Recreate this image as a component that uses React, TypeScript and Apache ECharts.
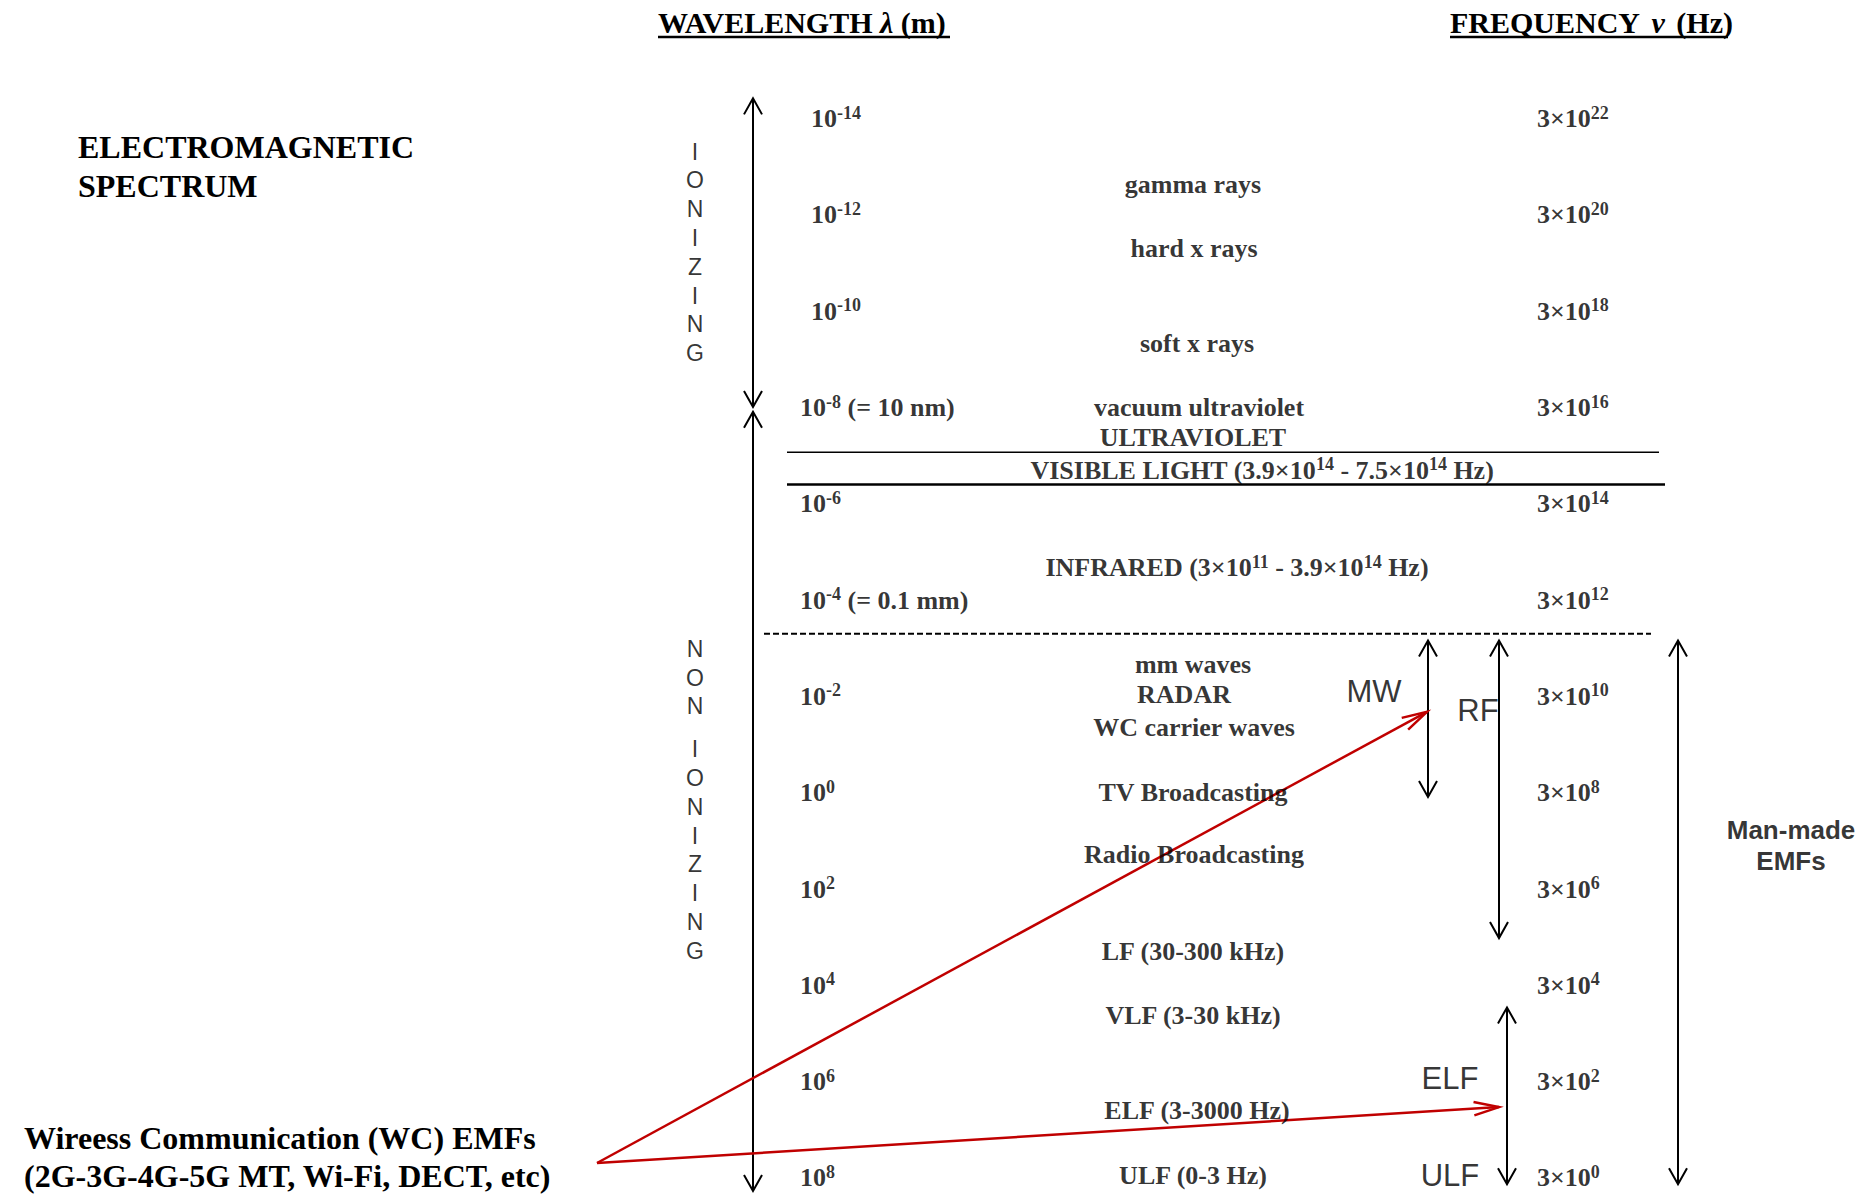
import React, { useEffect, useRef } from "react";
import * as echarts from "echarts";

const SERIF = '"Liberation Serif", "Times New Roman", Times, serif';
const SANS = '"Liberation Sans", Arial, Helvetica, sans-serif';
const RED = "#c00000";

// ---------------- data ----------------
// vertical scale: log10 of wavelength in metres
const wavelengthExponents = [-14, -12, -10, -8, -6, -4, -2, 0, 2, 4, 6, 8];
const wavelengthNotes = ["", "", "", " (= 10 nm)", "", " (= 0.1 mm)", "", "", "", "", "", ""];
const frequencyExponents = [22, 20, 18, 16, 14, 12, 10, 8, 6, 4, 2, 0];

const bandNames = [
  "gamma rays",
  "hard x rays",
  "soft x rays",
  "vacuum ultraviolet",
  "ULTRAVIOLET",
  "VISIBLE LIGHT (3.9×10^14 - 7.5×10^14 Hz)",
  "INFRARED (3×10^11 - 3.9×10^14 Hz)",
  "mm waves",
  "RADAR",
  "WC carrier waves",
  "TV Broadcasting",
  "Radio Broadcasting",
  "LF (30-300 kHz)",
  "VLF (3-30 kHz)",
  "ELF (3-3000 Hz)",
  "ULF (0-3 Hz)",
];
const bandLevels = [-12.64, -11.31, -9.32, -8.0, -7.37, -6.7, -4.67, -2.67, -2.03, -1.36, 0, 1.29, 3.29, 4.62, 6.61, 7.96];

// double-headed range arrows
const rangeNames = ["IONIZING", "NON IONIZING", "MW", "RF", "ELF", "Man-made EMFs"];
const rangeFrom = [-14.42, -7.91, -3.16, -3.16, 4.46, -3.16];
const rangeTo = [-8.01, 8.27, 0.09, 3.02, 8.13, 8.13];

// labels of the ranges
const rangeLabelTexts = [
  "I\nO\nN\nI\nZ\nI\nN\nG",
  "N\nO\nN",
  "I\nO\nN\nI\nZ\nI\nN\nG",
  "MW",
  "RF",
  "ELF",
  "ULF",
  "Man-made\nEMFs",
];
const rangeLabelLevels = [-11.22, -2.39, 1.19, -2.11, -1.7, 5.93, 7.96, 1.09];

// horizontal boundaries: UV | visible | IR | radio
const boundaryLevels = [-7.07, -6.4, -3.3];

// wireless communication pointers
const wcLabel = ["Wireess Communication (WC) EMFs", "(2G-3G-4G-5G MT, Wi-Fi, DECT, etc)"];
const wcSourceLevel = 7.69;
const wcTargetLevels = [-1.68, 6.53];

// ---------------- layout ----------------
const W = 1862;
const H = 1196;
const PX_AT_ZERO = 792.7; // pixel row of exponent 0
const PX_PER_DECADE = 48.15;
const Y_MIN = -PX_AT_ZERO / PX_PER_DECADE;
const Y_MAX = (H - PX_AT_ZERO) / PX_PER_DECADE;

const WL_X = 800;
const WL_X_TOP = 811;
const FREQ_X = 1537;
const BAND_X = [1193, 1194, 1197, 1199, 1193, 1262, 1237, 1193, 1184, 1194, 1193, 1194, 1193, 1193, 1197, 1193];
const RANGE_X = [753, 753, 1428, 1499, 1507, 1678];
const RANGE_LABEL_X = [695, 695, 695, 1374, 1478, 1450, 1450, 1791];
const BOUNDARY_X = [
  [787, 1659],
  [787, 1665],
  [764, 1651],
];
const BOUNDARY_W = [1.5, 2.5, 2];
const WC_SOURCE_X = 597;
const WC_TARGET_X = [1427, 1499];

const RICH = {
  b: { fontFamily: SERIF, fontWeight: "bold", fontSize: 26, lineHeight: 30, color: "#000" },
  s: { fontFamily: SERIF, fontWeight: "bold", fontSize: 18, lineHeight: 20, verticalAlign: "top", color: "#000" },
};

function toRich(s: string): string {
  const parts = s.split(/\^(-?\d+)/);
  return parts
    .map((p, i) => (p === "" ? "" : i % 2 ? `{s|${p}}` : `{b|${p}}`))
    .join("");
}

function buildOption() {
  const wlData = wavelengthExponents.map((e, i) => ({
    value: [e < -8 ? WL_X_TOP : WL_X, e],
    label: { formatter: toRich(`10^${e}${wavelengthNotes[i]}`) },
  }));
  const freqData = frequencyExponents.map((f, i) => ({
    value: [FREQ_X, wavelengthExponents[i]],
    label: { formatter: toRich(`3×10^${f}`) },
  }));
  const bandData = bandNames.map((n, i) => ({
    value: [BAND_X[i], bandLevels[i]],
    label: { formatter: toRich(n) },
  }));
  const rangeLabelData = rangeLabelTexts.map((t, i) => {
    const vertical = i < 3;
    const bold = i === 7;
    return {
      value: [RANGE_LABEL_X[i], rangeLabelLevels[i]],
      label: {
        formatter: t,
        fontFamily: SANS,
        fontWeight: bold ? "bold" : "normal",
        fontSize: vertical ? 23 : bold ? 26 : 31,
        lineHeight: vertical ? 28.8 : bold ? 31 : 34,
        color: "#000",
      },
    };
  });

  const arrowHead = (tipX: number, tipY: number, dir: number) => ({
    type: "polyline",
    shape: {
      points: [
        [tipX - 9, tipY + dir * 16],
        [tipX, tipY],
        [tipX + 9, tipY + dir * 16],
      ],
    },
    style: { stroke: "#000", lineWidth: 2, fill: "none" },
  });

  const headerRich = {
    h: { fontFamily: SERIF, fontWeight: "bold", fontSize: 30, fill: "#000" },
    i: { fontFamily: SERIF, fontWeight: "bold", fontStyle: "italic", fontSize: 30, fill: "#000" },
    v: { fontFamily: SERIF, fontWeight: "bold", fontStyle: "italic", fontSize: 30, fill: "#000", padding: [0, 4, 0, 4] },
  };

  return {
    animation: false,
    backgroundColor: "#ffffff",
    grid: { left: 0, right: 0, top: 0, bottom: 0, containLabel: false },
    xAxis: { type: "value", min: 0, max: W, show: false, splitLine: { show: false } },
    yAxis: { type: "value", inverse: true, min: Y_MIN, max: Y_MAX, show: false, splitLine: { show: false } },
    graphic: [
      {
        type: "text",
        x: 658,
        y: 22,
        style: { text: "{h|WAVELENGTH }{i|λ}{h| (m)}", verticalAlign: "middle", rich: headerRich },
      },
      { type: "line", shape: { x1: 658, y1: 37, x2: 950, y2: 37 }, style: { stroke: "#000", lineWidth: 2.5 } },
      {
        type: "text",
        x: 1450,
        y: 22,
        style: { text: "{h|FREQUENCY }{v|ν}{h| (Hz)}", verticalAlign: "middle", rich: headerRich },
      },
      { type: "line", shape: { x1: 1450, y1: 37, x2: 1728, y2: 37 }, style: { stroke: "#000", lineWidth: 2.5 } },
      {
        type: "text",
        x: 78,
        y: 127.5,
        style: {
          text: "ELECTROMAGNETIC\nSPECTRUM",
          fontFamily: SERIF,
          fontWeight: "bold",
          fontSize: 32,
          lineHeight: 39,
          verticalAlign: "top",
          fill: "#000",
        },
      },
      {
        type: "text",
        x: 24,
        y: 1138 - 19,
        style: {
          text: wcLabel.join("\n"),
          fontFamily: SERIF,
          fontWeight: "bold",
          fontSize: 32,
          lineHeight: 38,
          verticalAlign: "top",
          fill: "#000",
        },
      },
    ],
    series: [
      {
        type: "custom",
        name: "boundaries",
        coordinateSystem: "cartesian2d",
        silent: true,
        data: boundaryLevels.map((lv, i) => [BOUNDARY_X[i][0], BOUNDARY_X[i][1], lv]),
        encode: { x: [0, 1], y: 2 },
        renderItem: (params: any, api: any) => {
          const i = params.dataIndex;
          const a = api.coord([api.value(0), api.value(2)]);
          const b = api.coord([api.value(1), api.value(2)]);
          return {
            type: "line",
            shape: { x1: a[0], y1: a[1], x2: b[0], y2: b[1] },
            style: { stroke: "#000", lineWidth: BOUNDARY_W[i], lineDash: i === 2 ? [6, 3] : null },
          };
        },
      },
      {
        type: "custom",
        name: "ranges",
        coordinateSystem: "cartesian2d",
        silent: true,
        data: rangeNames.map((n, i) => ({ name: n, value: [RANGE_X[i], rangeFrom[i], rangeTo[i]] })),
        encode: { x: 0, y: [1, 2] },
        renderItem: (params: any, api: any) => {
          const x = api.value(0);
          const t = api.coord([x, api.value(1)]);
          const b = api.coord([x, api.value(2)]);
          return {
            type: "group",
            children: [
              { type: "line", shape: { x1: t[0], y1: t[1], x2: b[0], y2: b[1] }, style: { stroke: "#000", lineWidth: 2 } },
              arrowHead(t[0], t[1], 1),
              arrowHead(b[0], b[1], -1),
            ],
          };
        },
      },
      {
        type: "custom",
        name: "wc pointers",
        coordinateSystem: "cartesian2d",
        silent: true,
        data: wcTargetLevels.map((lv, i) => [WC_SOURCE_X, wcSourceLevel, WC_TARGET_X[i], lv]),
        encode: { x: [0, 2], y: [1, 3] },
        renderItem: (params: any, api: any) => {
          const s = api.coord([api.value(0), api.value(1)]);
          const e = api.coord([api.value(2), api.value(3)]);
          const ang = Math.atan2(s[1] - e[1], s[0] - e[0]);
          const L = 26;
          const da = (15 * Math.PI) / 180;
          const p1 = [e[0] + L * Math.cos(ang + da), e[1] + L * Math.sin(ang + da)];
          const p2 = [e[0] + L * Math.cos(ang - da), e[1] + L * Math.sin(ang - da)];
          return {
            type: "group",
            children: [
              { type: "line", shape: { x1: s[0], y1: s[1], x2: e[0], y2: e[1] }, style: { stroke: RED, lineWidth: 2.5 } },
              {
                type: "polyline",
                shape: { points: [p1, e, p2] },
                style: { stroke: RED, lineWidth: 2.5, fill: "none" },
              },
            ],
          };
        },
      },
      {
        type: "scatter",
        name: "wavelength",
        symbolSize: 0,
        silent: true,
        data: wlData,
        label: { show: true, position: "right", distance: 0, align: "left", verticalAlign: "middle", rich: RICH },
      },
      {
        type: "scatter",
        name: "frequency",
        symbolSize: 0,
        silent: true,
        data: freqData,
        label: { show: true, position: "right", distance: 0, align: "left", verticalAlign: "middle", rich: RICH },
      },
      {
        type: "scatter",
        name: "bands",
        symbolSize: 0,
        silent: true,
        data: bandData,
        label: { show: true, position: "inside", align: "center", verticalAlign: "middle", rich: RICH },
      },
      {
        type: "scatter",
        name: "range labels",
        symbolSize: 0,
        silent: true,
        data: rangeLabelData,
        label: { show: true, position: "inside", align: "center", verticalAlign: "middle" },
      },
    ],
  };
}

export default function App() {
  const ref = useRef<HTMLDivElement>(null);
  useEffect(() => {
    if (!ref.current) return;
    const chart = echarts.init(ref.current, undefined, { renderer: "svg" });
    chart.setOption(buildOption() as any);
    return () => chart.dispose();
  }, []);
  return (
    <div
      ref={ref}
      style={{ position: "absolute", left: 0, top: 0, width: W, height: H, background: "#fff" }}
    />
  );
}
